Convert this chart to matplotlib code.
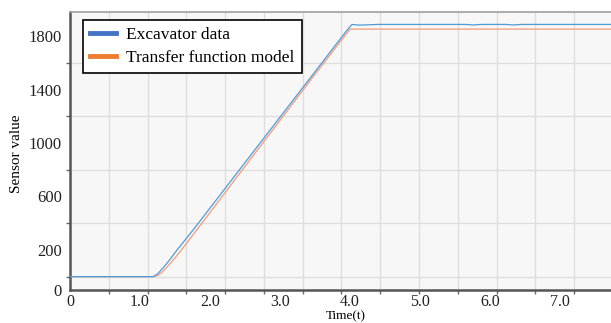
import matplotlib
matplotlib.use("Agg")
import matplotlib.pyplot as plt
import numpy as np
from matplotlib.lines import Line2D

plt.rcParams['font.family'] = ['Liberation Serif', 'DejaVu Serif']

# data (time in s, sensor value)
t_excavator = [0.0, 1.15, 1.19, 1.25, 1.32, 1.40, 1.53, 1.76, 2.2, 2.6, 3.0, 3.4,
               3.8, 3.95, 4.03, 4.12, 4.25, 4.4, 5.65, 5.76, 5.88, 6.22, 6.33, 6.45, 8.2]
v_excavator = [0, 0, 0, 20, 60, 110, 200, 350, 649, 921, 1193, 1465,
               1737, 1839, 1887, 1882, 1884, 1887, 1887, 1883, 1887, 1887, 1883, 1887, 1887]

t_model = [0.0, 1.19, 1.25, 1.32, 1.40, 1.50, 1.60, 2.0, 2.5, 3.0, 3.5, 4.0, 8.2]
v_model = [0, 0, 8, 35, 80, 140, 205, 480, 825, 1170, 1514, 1852, 1852]

x_labels = ['0', '1.0', '2.0', '3.0', '4.0', '5.0', '6.0', '7.0']
x_label_pos = [0, 1, 2, 3, 4, 5, 6, 7]
y_labels = ['0', '200', '600', '1000', '1400', '1800']
y_label_pos = [-100, 200, 600, 1000, 1400, 1800]

fig = plt.figure(figsize=(6.11, 3.23), dpi=100)
ax = fig.add_axes([70/611, 33/323, 570/611, 278/323])
ax.set_facecolor('#f7f7f7')

ax.plot(t_excavator, v_excavator, color='#4f9bd8', lw=0.9, zorder=3)
ax.plot(t_model, v_model, color='#f59a7a', lw=0.9, zorder=2)

ax.set_xlim(0, 570/70)
ax.set_ylim(-100, 1980)

# grid on minor ticks, labels on major ticks (they do not line up in the original)
ax.set_xticks(np.arange(0, 8.2, 0.554), minor=True)
ax.set_yticks(np.arange(0, 1801, 200), minor=True)
ax.set_xticks(x_label_pos)
ax.set_xticklabels(x_labels)
ax.set_yticks(y_label_pos)
ax.set_yticklabels(y_labels)
ax.tick_params(which='major', length=0, labelsize=12, colors='#222222')
ax.tick_params(axis='x', which='major', labelsize=11.5, pad=3)
ax.tick_params(axis='y', which='major', pad=6)
ax.tick_params(which='minor', length=3, width=1, color='#666666')
ax.grid(which='minor', color='#dedede', lw=1)
ax.grid(which='major', visible=False)

for side in ['left', 'bottom']:
    ax.spines[side].set_color('#555555')
    ax.spines[side].set_linewidth(1.8)
ax.spines['top'].set_color('#a0a0a0')
ax.spines['top'].set_linewidth(1.2)
ax.spines['right'].set_visible(False)

ax.set_xlabel('Time(t)', fontsize=9.5)
ax.xaxis.set_label_coords(0.484, -0.072)
ax.set_ylabel('Sensor value', fontsize=11)
ax.yaxis.set_label_coords(-0.082, 0.49)

handles = [Line2D([], [], color='#4472c4', lw=3.5),
           Line2D([], [], color='#ed7d31', lw=3.5)]
leg = ax.legend(handles, ['Excavator data', 'Transfer function model'],
                loc='upper left', bbox_to_anchor=(0.0228, 0.971), borderaxespad=0,
                fontsize=12.5, fancybox=False, framealpha=1, edgecolor='black',
                handlelength=1.5, handletextpad=0.6, labelspacing=0.4, borderpad=0.4)
leg.get_frame().set_linewidth(1.2)

fig.savefig('out.png', dpi=100)
